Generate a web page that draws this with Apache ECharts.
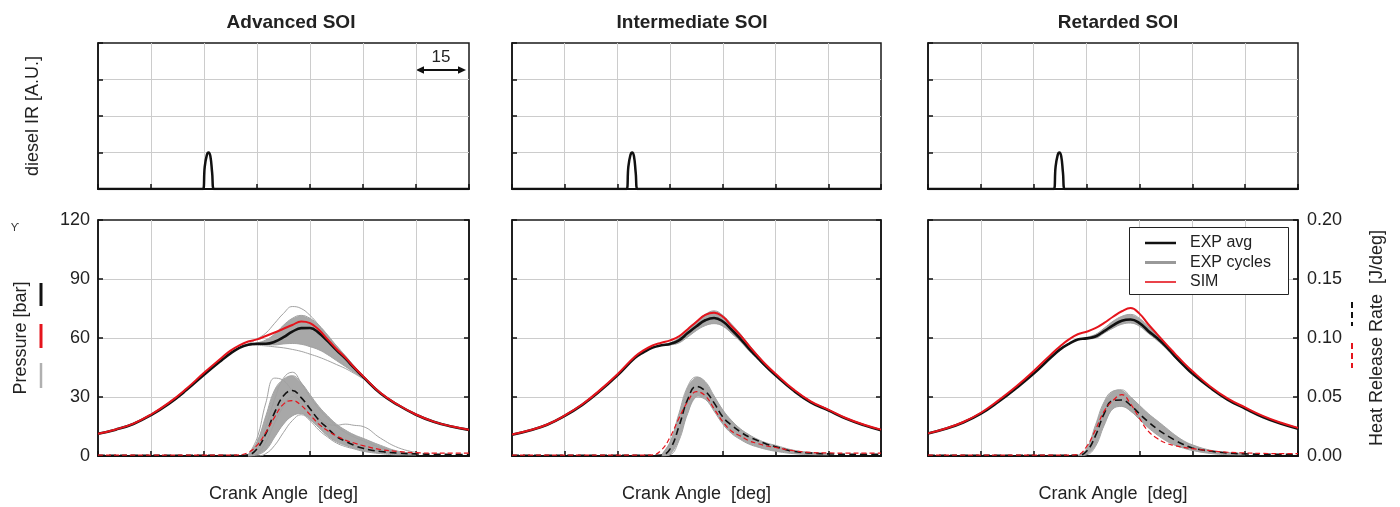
<!DOCTYPE html>
<html>
<head>
<meta charset="utf-8">
<script src="https://cdn.jsdelivr.net/npm/echarts@6/dist/echarts.min.js"></script>
<style>html,body{margin:0;padding:0;background:#fff}#c{width:1400px;height:507px}</style>
</head>
<body>
<div id="c"></div>
<script>
// ---------------- DATA ----------------
const PANEL_TITLES = ['Advanced SOI', 'Intermediate SOI', 'Retarded SOI'];
const P_TICKS = [0, 30, 60, 90, 120];
const HRR_TICKS = [0, 0.05, 0.10, 0.15, 0.20];

// crank angle grid (deg, TDC = 0)
const CA = [-45,-40,-35,-30,-25,-20,-15,-10,-7.5,-5,-2.5,0,2.5,5,7.5,10,12.5,15,17.5,20,22.5,25,27.5,30,35,40,45,50,55,60];

// diesel injection rate (A.U.)
const INJ_VAL    = [0, 0, 0.6, 0.93, 1.0, 0.9, 0.45, 0, 0];
const INJ_CA_ADV = [-45, -15.3, -14.8, -14.2, -13.7, -13.2, -12.7, -12.2, 60];
const INJ_CA_INT = [-45, -12.4, -11.9, -11.3, -10.8, -10.3, -9.8, -9.3, 60];
const INJ_CA_RET = [-45, -9.3, -8.8, -8.2, -7.7, -7.2, -6.7, -6.2, 60];

// ---- Advanced SOI ----
const P_ADV_EXP = [11.3,13.4,16.3,20.8,26.5,33.5,41.3,48.7,52.2,55,56.6,57.1,57.1,58.1,60.4,63.2,65,65.1,62.6,58.4,53.8,49.6,44.8,40.3,31.8,25.8,21,17.4,15,13.3];
const P_ADV_SIM = [11.3,13.5,16.5,21.1,27,34.2,42.3,50,53.6,56.3,58.2,59.3,61,62.8,64.7,66.6,68.4,67.6,64.2,59.3,54.4,50,45.1,40.6,32,26,21.1,17.5,15.1,13.4];
const CA_PB_ADV = [-2.5,0,2.5,5,7.5,10,12.5,15,17.5,20,22.5,25,27.5,30];
const P_ADV_BAND_HI = [56.6,57.5,59,62,66.5,70,71.5,70,66.5,61.5,56,50.8,45.5,40.6];
const P_ADV_BAND_LO = [56.5,56.8,56.5,56.5,57,57.2,56.8,55.6,54,51.5,48.5,45.5,42.5,39.8];
const P_ADV_CYC_HI  = [57,59.5,62.5,67.5,72.5,76,75,71.5,66.5,60.8,56,51,45.8,40.8];
const P_ADV_CYC_LO  = [56.4,56.3,56,55.5,55,54.2,53.2,51.8,50.3,48.5,46.5,44.5,42,39.3];
const H_ADV_EXP = [0.0005,0.0005,0.0005,0.0005,0.0005,0.0005,0.0005,0.0005,0.0005,0.0005,0.001,0.006,0.019,0.037,0.051,0.0555,0.0495,0.04,0.0305,0.0235,0.0165,0.0125,0.009,0.0065,0.0038,0.0025,0.0018,0.0015,0.0013,0.0012];
const H_ADV_SIM = [0.0008,0.0008,0.0008,0.0008,0.0008,0.0008,0.0008,0.0008,0.0008,0.001,0.003,0.009,0.02,0.033,0.044,0.047,0.043,0.035,0.027,0.0215,0.017,0.0135,0.011,0.0088,0.0055,0.0038,0.0028,0.0025,0.0025,0.0025];
const CA_HB_ADV = [-2.5,0,2.5,5,7.5,10,12.5,15,17.5,20,22.5,25,27.5,30,35,40,45];
const H_ADV_BAND_HI = [0.001,0.012,0.034,0.056,0.065,0.068,0.062,0.052,0.042,0.034,0.027,0.022,0.018,0.015,0.009,0.004,0.002];
const H_ADV_BAND_LO = [0,0.001,0.005,0.016,0.027,0.034,0.036,0.031,0.024,0.017,0.012,0.009,0.0065,0.0045,0.0025,0.0015,0.001];
const H_ADV_CYC_A = [0.001,0.015,0.045,0.066,0.064,0.055,0.045,0.036,0.028,0.021,0.016,0.012,0.009,0.007,0.004,0.002,0.0015];
const H_ADV_CYC_B = [0,0.006,0.025,0.048,0.066,0.071,0.062,0.05,0.04,0.032,0.025,0.02,0.016,0.013,0.007,0.003,0.0015];
const H_ADV_CYC_C = [0,0.002,0.012,0.028,0.042,0.05,0.047,0.04,0.032,0.027,0.026,0.027,0.026,0.025,0.015,0.007,0.003];
const H_ADV_CYC_D = [0,0,0.002,0.009,0.02,0.03,0.035,0.03,0.022,0.016,0.011,0.008,0.006,0.004,0.002,0.001,0.001];

// ---- Intermediate SOI ----
const P_INT_EXP = [10.8,13,15.9,20.4,26,33,41,49.9,52.8,55.1,56.3,57,58.8,62.5,66,69,70.2,68.4,64.2,59.6,54.5,49.8,45.2,41,33.4,27.3,23.2,19,15.7,13.1];
const P_INT_SIM = [10.9,13.1,16,20.6,26.3,33.5,41.6,50.6,53.8,56.2,57.6,58.8,60.8,64.5,68.3,71.8,72.9,70.8,66,61.3,55.9,50.8,46,41.8,34,27.8,23.6,19.3,16,13.4];
const CA_PB_INT = [-2.5,0,2.5,5,7.5,10,12.5,15,17.5,20,22.5,25,27.5,30];
const P_INT_BAND_HI = [56.4,57.6,60,64,68.5,72,73.8,71.5,67,62,56.5,51.2,46.2,41.7];
const P_INT_BAND_LO = [56.2,56.5,57.5,60.5,63.8,66.3,67.3,66,62.3,58.2,53.4,49,44.6,40.6];
const H_INT_EXP = [0.0005,0.0005,0.0005,0.0005,0.0005,0.0005,0.0005,0.0005,0.0005,0.0005,0.0008,0.006,0.025,0.048,0.059,0.055,0.045,0.033,0.026,0.0205,0.016,0.013,0.01,0.0079,0.004,0.0025,0.0018,0.0015,0.0014,0.0014];
const H_INT_SIM = [0.0008,0.0008,0.0008,0.0008,0.0008,0.0008,0.0008,0.0008,0.0008,0.001,0.005,0.016,0.032,0.046,0.0545,0.051,0.04,0.029,0.021,0.017,0.0128,0.0105,0.0085,0.0072,0.0045,0.003,0.0026,0.0025,0.0025,0.0025];
const CA_HB_INT = [-2.5,0,2.5,5,7.5,10,12.5,15,17.5,20,22.5,25,27.5,30,35,40,45];
const H_INT_BAND_HI = [0.001,0.012,0.036,0.059,0.067,0.063,0.051,0.039,0.03,0.023,0.018,0.014,0.011,0.009,0.005,0.003,0.002];
const H_INT_BAND_LO = [0,0.001,0.013,0.036,0.05,0.048,0.038,0.027,0.019,0.014,0.01,0.0075,0.0055,0.004,0.002,0.0012,0.001];

// ---- Retarded SOI ----
const P_RET_EXP = [11.4,13.8,17,21.5,27.6,34.5,41.9,50.3,54.2,57,59.2,59.8,60.8,63.5,66.4,68.8,69.4,67.6,63.6,60,55.8,50.8,46.2,41.9,34.8,28.7,24.1,19.8,16.5,13.9];
const P_RET_SIM = [11.5,14,17.3,22,28.3,35.3,43.2,51.8,55.8,59.3,61.9,63.2,65,67.7,70.8,73.6,75.2,72.4,67,62,57,52.2,47.5,43.2,35.5,29.3,24.7,20.4,17,14.3];
const CA_PB_RET = [-2.5,0,2.5,5,7.5,10,12.5,15,17.5,20,22.5,25,27.5,30];
const P_RET_BAND_HI = [59.4,60.4,61.8,65,68.5,71,72,70,65.8,61.6,57,52,47.2,42.5];
const P_RET_BAND_LO = [59.1,59.5,59.9,62.5,65,67,67.6,66,62.4,58.8,54.8,50.2,46,41.6];
const H_RET_EXP = [0.0005,0.0005,0.0005,0.0005,0.0005,0.0005,0.0005,0.0005,0.0005,0.0005,0.0005,0.004,0.017,0.036,0.047,0.0475,0.043,0.0358,0.029,0.023,0.018,0.0135,0.0098,0.0068,0.0042,0.0026,0.0018,0.0015,0.0014,0.0014];
const H_RET_SIM = [0.0008,0.0008,0.0008,0.0008,0.0008,0.0008,0.0008,0.0008,0.0008,0.0008,0.0012,0.008,0.022,0.038,0.047,0.052,0.044,0.032,0.021,0.015,0.011,0.0088,0.0073,0.0062,0.0045,0.0032,0.0026,0.0022,0.002,0.002];
const CA_HB_RET = [-2.5,0,2.5,5,7.5,10,12.5,15,17.5,20,22.5,25,27.5,30,35,40,45];
const H_RET_BAND_HI = [0.0005,0.006,0.026,0.046,0.055,0.056,0.05,0.043,0.036,0.03,0.024,0.018,0.013,0.0095,0.005,0.003,0.002];
const H_RET_BAND_LO = [0.0003,0.001,0.008,0.026,0.04,0.042,0.038,0.031,0.024,0.018,0.013,0.0092,0.0067,0.0047,0.0022,0.0012,0.001];

// ---------------- CHART ----------------
const PANELS = [
  {inj: INJ_CA_ADV, pExp: P_ADV_EXP, pSim: P_ADV_SIM, pbCA: CA_PB_ADV, pbHi: P_ADV_BAND_HI, pbLo: P_ADV_BAND_LO, pCyc: [P_ADV_CYC_HI, P_ADV_CYC_LO],
   hExp: H_ADV_EXP, hSim: H_ADV_SIM, hbCA: CA_HB_ADV, hbHi: H_ADV_BAND_HI, hbLo: H_ADV_BAND_LO, hCyc: [H_ADV_CYC_A, H_ADV_CYC_B, H_ADV_CYC_C, H_ADV_CYC_D]},
  {inj: INJ_CA_INT, pExp: P_INT_EXP, pSim: P_INT_SIM, pbCA: CA_PB_INT, pbHi: P_INT_BAND_HI, pbLo: P_INT_BAND_LO, pCyc: [],
   hExp: H_INT_EXP, hSim: H_INT_SIM, hbCA: CA_HB_INT, hbHi: H_INT_BAND_HI, hbLo: H_INT_BAND_LO, hCyc: []},
  {inj: INJ_CA_RET, pExp: P_RET_EXP, pSim: P_RET_SIM, pbCA: CA_PB_RET, pbHi: P_RET_BAND_HI, pbLo: P_RET_BAND_LO, pCyc: [],
   hExp: H_RET_EXP, hSim: H_RET_SIM, hbCA: CA_HB_RET, hbHi: H_RET_BAND_HI, hbLo: H_RET_BAND_LO, hCyc: []}
];

const FONT = "'Liberation Sans', Arial, Helvetica, sans-serif";
const TXT = '#222';
const BLACK = '#111';
const RED = '#e5141c';
const GRAY = '#a2a2a2';
const BANDFILL = '#a8a8a8';
const GRIDC = '#cccccc';

const COLS = [{left: 98, width: 371}, {left: 512, width: 369}, {left: 928, width: 370}];
const grids = [];
COLS.forEach(c => grids.push({left: c.left, width: c.width, top: 43, height: 146}));
COLS.forEach(c => grids.push({left: c.left, width: c.width, top: 220, height: 236}));
grids.forEach(g => { g.show = true; g.borderColor = '#1a1a1a'; g.borderWidth = 1.5; g.containLabel = false; });

const tick = {show: true, inside: true, length: 5, lineStyle: {color: BLACK, width: 1.5}};
const split = {show: true, showMinLine: false, showMaxLine: false, lineStyle: {color: GRIDC, width: 1}};
const nameStyle = {fontSize: 18, color: TXT, fontFamily: FONT};

const xAxes = grids.map((g, i) => ({
  type: 'value', gridIndex: i, min: -45, max: 60, interval: 15,
  axisLabel: {show: false},
  axisLine: {show: true, onZero: false, lineStyle: {color: BLACK, width: 2}},
  axisTick: tick, splitLine: split,
  name: i >= 3 ? 'Crank Angle  [deg]' : '',
  nameLocation: 'middle', nameGap: 29, nameTextStyle: nameStyle
}));

const yAxes = [];
// top panels (injection rate)
for (let i = 0; i < 3; i++) {
  yAxes.push({type: 'value', gridIndex: i, min: 0, max: 4, interval: 1,
    axisLabel: {show: false}, axisLine: {show: true, onZero: false, lineStyle: {color: BLACK, width: 1.5}},
    axisTick: tick, splitLine: split,
    name: i === 0 ? 'diesel IR [A.U.]' : '', nameLocation: 'middle', nameRotate: 90, nameGap: 56, nameTextStyle: nameStyle});
}
// bottom panels, pressure (left)
for (let i = 0; i < 3; i++) {
  yAxes.push({type: 'value', gridIndex: 3 + i, position: 'left', min: P_TICKS[0], max: P_TICKS[P_TICKS.length - 1], interval: P_TICKS[1] - P_TICKS[0],
    axisLabel: {show: i === 0, fontSize: 18, color: TXT, fontFamily: FONT, margin: 8},
    axisLine: {show: true, onZero: false, lineStyle: {color: BLACK, width: 1.5}},
    axisTick: tick, splitLine: split,
    name: i === 0 ? 'Pressure [bar]' : '', nameLocation: 'middle', nameRotate: 90, nameGap: 68, nameTextStyle: nameStyle});
}
// bottom panels, heat release rate (right)
for (let i = 0; i < 3; i++) {
  yAxes.push({type: 'value', gridIndex: 3 + i, position: 'right', min: HRR_TICKS[0], max: HRR_TICKS[HRR_TICKS.length - 1], interval: 0.05,
    axisLabel: {show: i === 2, fontSize: 18, color: TXT, fontFamily: FONT, margin: 9, formatter: v => v.toFixed(2)},
    axisLine: {show: true, onZero: false, lineStyle: {color: BLACK, width: 1.5}},
    axisTick: tick, splitLine: {show: false},
    name: i === 2 ? 'Heat Release Rate  [J/deg]' : '', nameLocation: 'middle', nameRotate: 90, nameGap: 70, nameTextStyle: nameStyle});
}

const pairs = (xs, ys) => xs.map((x, i) => [x, ys[i]]);
function line(xi, yi, xs, ys, color, width, dash, z) {
  return {type: 'line', xAxisIndex: xi, yAxisIndex: yi, data: pairs(xs, ys),
    showSymbol: false, symbol: 'none', smooth: 0.45, silent: true, animation: false, z: z,
    lineStyle: {color: color, width: width, type: dash || 'solid'}};
}
function band(xi, yi, xs, lo, hi, color) {
  return {type: 'custom', xAxisIndex: xi, yAxisIndex: yi, silent: true, animation: false, z: 1,
    data: xs.map((x, i) => [x, lo[i], hi[i]]),
    encode: {x: 0, y: [1, 2]},
    renderItem: function (params, api) {
      if (params.dataIndexInside !== 0) return null;
      const n = xs.length;
      const up = [], dn = [];
      for (let k = 0; k < n; k++) {
        up.push(api.coord([api.value(0, k), api.value(2, k)]));
        dn.push(api.coord([api.value(0, k), api.value(1, k)]));
      }
      return {type: 'polygon', shape: {points: up.concat(dn.reverse()), smooth: 0.3}, style: {fill: color, stroke: null}};
    }};
}

const series = [];
PANELS.forEach((p, i) => {
  // injection rate
  series.push(line(i, i, p.inj, INJ_VAL, BLACK, 2.5, null, 5));
  const xb = 3 + i, yp = 3 + i, yh = 6 + i;
  // experimental cycle spread (gray)
  series.push(band(xb, yp, p.pbCA, p.pbLo, p.pbHi, BANDFILL));
  series.push(band(xb, yh, p.hbCA, p.hbLo, p.hbHi, BANDFILL));
  series.push(line(xb, yp, p.pbCA, p.pbHi, GRAY, 1, null, 2));
  series.push(line(xb, yp, p.pbCA, p.pbLo, GRAY, 1, null, 2));
  series.push(line(xb, yh, p.hbCA, p.hbHi, GRAY, 1, null, 2));
  series.push(line(xb, yh, p.hbCA, p.hbLo, GRAY, 1, null, 2));
  p.pCyc.forEach(c => series.push(line(xb, yp, p.pbCA, c, GRAY, 1, null, 2)));
  p.hCyc.forEach(c => series.push(line(xb, yh, p.hbCA, c, GRAY, 1, null, 2)));
  // heat release rate
  series.push(line(xb, yh, CA, p.hExp, BLACK, 1.6, [7, 4], 4));
  series.push(line(xb, yh, CA, p.hSim, RED, 1.2, [5, 3], 4));
  // pressure
  series.push(line(xb, yp, CA, p.pExp, BLACK, 2.6, null, 5));
  series.push(line(xb, yp, CA, p.pSim, RED, 2, null, 6));
});

const TITLE_X = [291, 692, 1118];
const graphic = [];
PANELS.forEach((p, i) => graphic.push({type: 'text', x: TITLE_X[i], y: 23,
  style: {text: PANEL_TITLES[i], align: 'center', verticalAlign: 'middle', fontSize: 19, fontWeight: 'bold', fontFamily: FONT, fill: TXT}}));
// 15 deg scale arrow
graphic.push({type: 'text', x: 441, y: 57, style: {text: '15', align: 'center', verticalAlign: 'middle', fontSize: 17, fontFamily: FONT, fill: TXT}});
graphic.push({type: 'line', shape: {x1: 420, y1: 70, x2: 462, y2: 70}, style: {stroke: BLACK, lineWidth: 1.8}});
graphic.push({type: 'polygon', shape: {points: [[416, 70], [424, 66.2], [424, 73.8]]}, style: {fill: BLACK}});
graphic.push({type: 'polygon', shape: {points: [[466, 70], [458, 66.2], [458, 73.8]]}, style: {fill: BLACK}});
// left line keys
graphic.push({type: 'text', x: 15, y: 228, style: {text: 'ϒ', align: 'center', verticalAlign: 'middle', fontSize: 11, fontFamily: FONT, fill: '#333'}});
graphic.push({type: 'line', shape: {x1: 41, y1: 283, x2: 41, y2: 306}, style: {stroke: BLACK, lineWidth: 3}});
graphic.push({type: 'line', shape: {x1: 41, y1: 324, x2: 41, y2: 348}, style: {stroke: RED, lineWidth: 3}});
graphic.push({type: 'line', shape: {x1: 41, y1: 363, x2: 41, y2: 388}, style: {stroke: '#b0b0b0', lineWidth: 2.5}});
// right line keys (dashed)
graphic.push({type: 'line', shape: {x1: 1352, y1: 302, x2: 1352, y2: 326}, style: {stroke: BLACK, lineWidth: 2, lineDash: [6, 4]}});
graphic.push({type: 'line', shape: {x1: 1352, y1: 343, x2: 1352, y2: 368}, style: {stroke: RED, lineWidth: 2, lineDash: [6, 4]}});
// legend box
const LEG = [{name: 'EXP avg', color: BLACK, w: 2.5}, {name: 'EXP cycles', color: '#999', w: 3}, {name: 'SIM', color: RED, w: 1.6}];
graphic.push({type: 'rect', shape: {x: 1129.5, y: 227.5, width: 159, height: 67}, style: {fill: '#fff', stroke: '#222', lineWidth: 1}, z: 100});
LEG.forEach((l, k) => {
  const y = 243 + k * 19.5;
  graphic.push({type: 'line', shape: {x1: 1145, y1: y, x2: 1176, y2: y}, style: {stroke: l.color, lineWidth: l.w}, z: 101});
  graphic.push({type: 'text', x: 1190, y: y, style: {text: l.name, verticalAlign: 'middle', fontSize: 16, fontFamily: FONT, fill: TXT}, z: 101});
});

const chart = echarts.init(document.getElementById('c'), null, {renderer: 'canvas'});
chart.setOption({
  animation: false,
  backgroundColor: '#fff',
  textStyle: {fontFamily: FONT},
  grid: grids, xAxis: xAxes, yAxis: yAxes, series: series, graphic: graphic
});
</script>
</body>
</html>
